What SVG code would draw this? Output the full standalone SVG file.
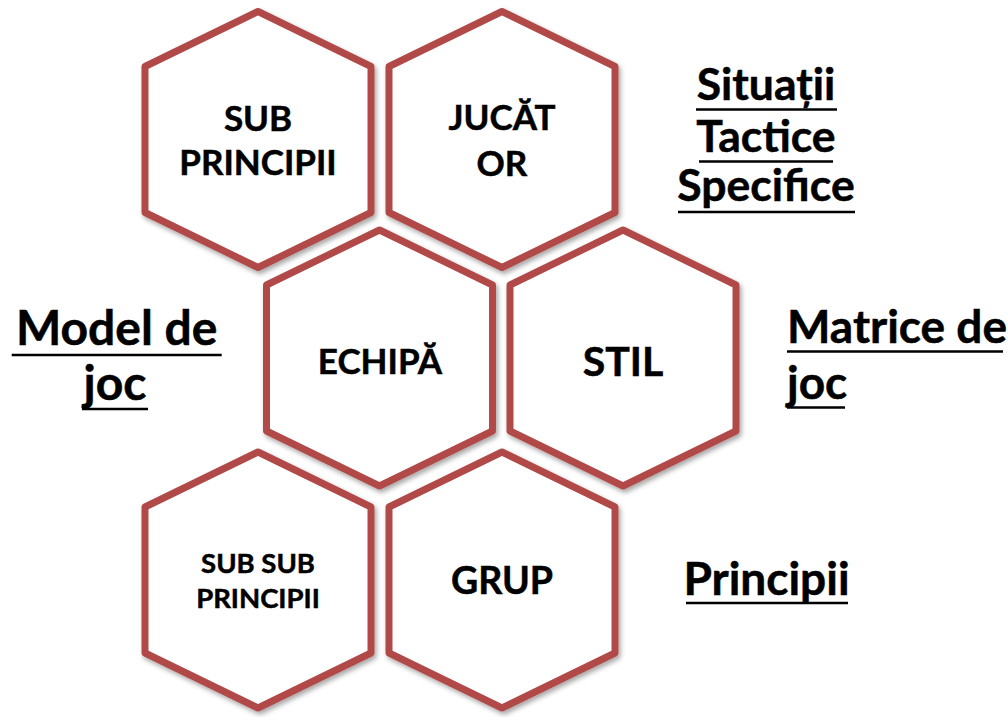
<svg xmlns="http://www.w3.org/2000/svg" width="1008" height="717" viewBox="0 0 1008 717">
<defs>
<filter id="sh" x="-10%" y="-10%" width="125%" height="125%">
<feDropShadow dx="2" dy="3" stdDeviation="2.5" flood-color="#000" flood-opacity="0.35"/>
</filter>
<path id="hx" d="M0,-128 L113,-73 L113,73 L0,128 L-113,73 L-113,-73 Z"/>
</defs>
<style>
.hex{fill:#fff;stroke:#b04a47;stroke-width:7;stroke-linejoin:round;filter:url(#sh)}
text{font-family:Lato,"Open Sans","Liberation Sans",sans-serif;font-weight:bold;fill:#000;stroke:#000;stroke-width:0.5}
.c{text-anchor:middle}
.ul{stroke:#000;stroke-width:2.5}
</style>
<g id="hex-sub-principii"><use href="#hx" class="hex" x="258" y="139.5"/>
<text class="c" x="258" y="131" font-size="35">SUB</text><text class="c" x="258" y="175" font-size="35">PRINCIPII</text></g>
<g id="hex-jucator"><use href="#hx" class="hex" x="502" y="139.5"/>
<text class="c" x="502" y="130" font-size="35">JUCĂT</text><text class="c" x="502" y="176" font-size="35">OR</text></g>
<g id="hex-echipa"><use href="#hx" class="hex" x="379.5" y="358"/>
<text class="c" x="380" y="374" font-size="35">ECHIPĂ</text></g>
<g id="hex-stil"><use href="#hx" class="hex" x="623" y="358"/>
<text class="c" x="623" y="376" font-size="41">STIL</text></g>
<g id="hex-sub-sub-principii"><use href="#hx" class="hex" x="258" y="580"/>
<text class="c" x="258" y="573" font-size="27.5">SUB SUB</text><text class="c" x="258" y="608" font-size="27.5">PRINCIPII</text></g>
<g id="hex-grup"><use href="#hx" class="hex" x="502" y="580"/>
<text class="c" x="502" y="594" font-size="37.5">GRUP</text></g>
<g id="label-situatii">
<text class="c" x="766" y="100" font-size="44.5">Situații</text>
<text class="c" x="766" y="152" font-size="44.5">Tactice</text>
<text class="c" x="766" y="201" font-size="44.5">Specifice</text>
<line class="ul" x1="696" y1="109.5" x2="837" y2="109.5"/>
<line class="ul" x1="699" y1="161.5" x2="833" y2="161.5"/>
<line class="ul" x1="678" y1="212" x2="855" y2="212"/>
</g>
<g id="label-model">
<text class="c" x="116.7" y="345" font-size="48">Model de</text>
<text class="c" x="115" y="400" font-size="48">joc</text>
<line class="ul" x1="11.7" y1="355" x2="221.7" y2="355"/>
<line class="ul" x1="82" y1="409" x2="148" y2="409"/>
</g>
<g id="label-matrice">
<text x="787" y="343" font-size="46">Matrice de</text>
<text x="787" y="399" font-size="46">joc</text>
<line class="ul" x1="787" y1="351.5" x2="1003" y2="351.5"/>
<line class="ul" x1="787" y1="407.5" x2="845" y2="407.5"/>
</g>
<g id="label-principii">
<text class="c" x="766.5" y="595" font-size="46">Principii</text>
<line class="ul" x1="686" y1="603" x2="848" y2="603"/>
</g>
<g id="connectors"/>
</svg>
